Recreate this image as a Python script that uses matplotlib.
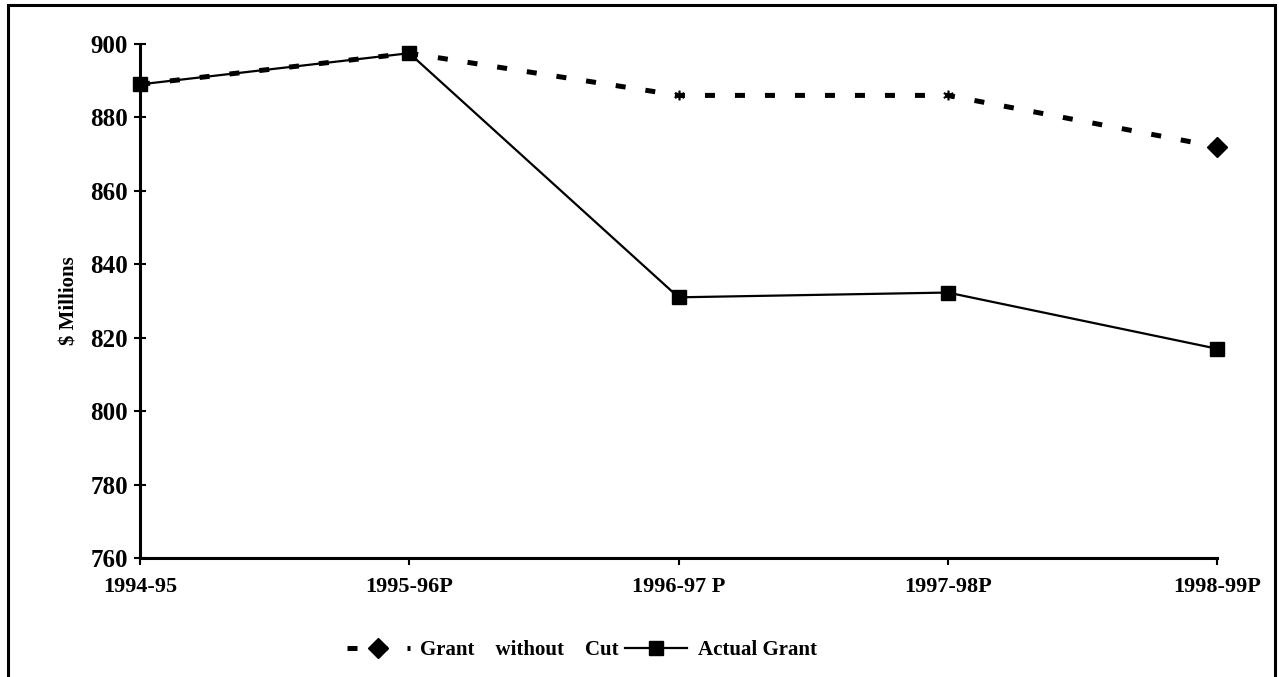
import matplotlib.pyplot as plt
from matplotlib.patches import Rectangle

years = ["1994-95", "1995-96P", "1996-97 P", "1997-98P", "1998-99P"]
grant_without_cut = [889.0, 897.5, 886.0, 886.0, 872.0]
actual_grant = [889.0, 897.5, 831.0, 832.3, 817.0]

plt.rcParams["font.family"] = ["Liberation Serif", "DejaVu Serif"]
plt.rcParams["font.weight"] = "bold"

fig = plt.figure(figsize=(12.79, 6.77), dpi=100)
ax = fig.add_axes([0.1095, 0.1758, 0.8420, 0.7592])

x = list(range(len(years)))
ax.plot(x, grant_without_cut, color="black", lw=3.6, linestyle=(0, (2.0, 4.0)),
        marker="D", markersize=10, markevery=[4], clip_on=False,
        label="Grant    without    Cut", zorder=2)
# the two flat points are printed as asterisks in the source
ax.plot(x[2:4], grant_without_cut[2:4], linestyle="none", marker="$*$",
        color="black", markersize=7, markeredgewidth=0.3, zorder=3)
ax.plot(x, actual_grant, color="black", lw=1.6, linestyle="-",
        marker="s", markersize=10, clip_on=False, label="Actual Grant", zorder=4)

ax.set_xlim(0, len(years) - 1)
ax.set_ylim(760, 900)
ax.set_yticks(range(760, 901, 20))
ax.set_xticks(x)
ax.set_xticklabels(years, fontsize=16, fontweight="bold")
ax.tick_params(axis="y", labelsize=18, direction="inout", length=9, width=1.5, pad=4)
ax.tick_params(axis="x", direction="out", length=5, width=1.5, pad=9)
for lbl in ax.get_yticklabels():
    lbl.set_fontweight("bold")

for side in ["top", "right"]:
    ax.spines[side].set_visible(False)
for side in ["left", "bottom"]:
    ax.spines[side].set_linewidth(2.2)

ax.set_ylabel("$ Millions", fontsize=15, fontweight="bold", labelpad=8)

fig.legend(loc="center", bbox_to_anchor=(0.455, 0.040), ncol=2, frameon=False,
           fontsize=15, handlelength=3.0, columnspacing=0.3, handletextpad=0.5)

fig.patches.append(Rectangle((8 / 1279, -0.05), 1267 / 1279, 1.05 - 5 / 677,
                             transform=fig.transFigure, fill=False,
                             edgecolor="black", lw=2.2))

fig.savefig("out.png", dpi=100)
